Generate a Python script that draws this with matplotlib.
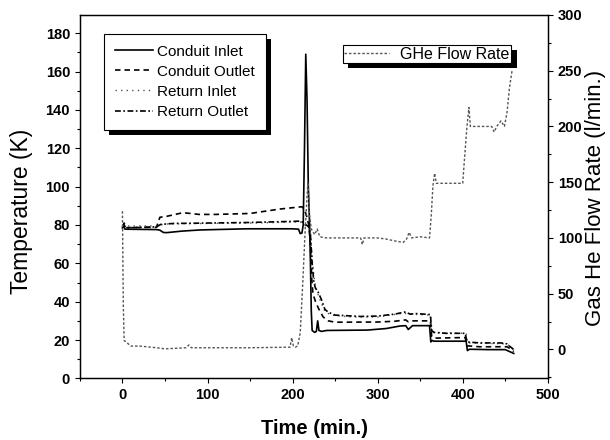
import matplotlib
matplotlib.use("Agg")
import matplotlib.pyplot as plt
import matplotlib.patheffects as pe
from matplotlib.ticker import MultipleLocator

plt.rcParams['font.family'] = ['Liberation Sans', 'DejaVu Sans']

# Conduit inlet (K)
t_ci = [0, 1, 3, 20, 40, 44, 48, 52, 70, 91, 146, 200, 207, 209, 211, 212.5, 214, 215.5,
        217, 218.5, 220, 221, 222, 223, 226, 228, 229.5, 231, 234, 240, 288, 310, 326,
        333, 336, 341, 361, 362.5, 364, 366, 380, 404, 405.5, 408, 430, 450, 455, 460]
ci = [78.5, 80, 77.8, 77.7, 77.6, 77.3, 76.1, 76, 76.8, 77.4, 78, 78, 77.8, 75.5, 75.8, 80, 120, 169,
      145, 100, 80, 60, 35, 25, 24, 24.5, 30, 25, 24.5, 25, 25.2, 26, 27.3,
      27.5, 25.5, 27.5, 27.5, 19, 19.8, 19.4, 19.4, 19.4, 14.5, 15.2, 15, 15, 14, 13]

# Conduit outlet (K)
t_co = [0, 2, 4, 40, 44, 52, 71, 80, 90, 110, 150, 185, 200, 211, 214, 217, 219, 221,
        222.5, 224, 227, 231, 236, 242, 250, 300, 320, 333, 336, 340, 362, 363.5, 366,
        403, 405, 420, 452, 456, 460]
co = [79, 81, 78.6, 78.8, 84, 84.5, 86.4, 86, 85.5, 85.5, 86, 88.3, 89, 89.5, 88, 84, 80, 70,
      52, 44, 40, 36, 32, 30, 29.3, 29.4, 29.8, 30.5, 29.5, 30, 30, 22, 21,
      21.3, 17, 16.5, 16.5, 15.5, 14]

# Return inlet (K)
t_ri = [0, 40, 50, 100, 150, 200, 210, 214, 218, 221, 223, 226, 229, 233, 238, 245, 270,
        300, 330, 340, 362, 363.5, 404, 405.5, 450, 455, 460]
ri = [79.5, 79.5, 80.5, 80.8, 81, 81.5, 81.5, 80, 79, 76, 62, 50, 45, 40, 35, 33, 32,
      32, 34, 33.5, 33, 24, 23.5, 18.5, 18, 17, 15]

# Return outlet (K)
t_ro = [0, 2, 4, 40, 45, 60, 100, 150, 185, 210, 213, 216, 219, 221, 223, 225, 227, 230,
        234, 238, 242, 250, 280, 300, 320, 333, 338, 345, 362, 363.5, 366, 380, 403,
        405, 420, 445, 452, 456, 460]
ro = [78.5, 80, 78.5, 79, 80.3, 80.8, 81, 81.3, 81.7, 82, 81, 80, 79, 75, 60, 50, 47, 45,
      41, 36, 34.5, 33, 32.3, 32.5, 33.5, 34.7, 33.5, 33.8, 33.3, 25, 24, 23.5, 23.5,
      19, 18.5, 18.5, 18, 16.5, 15]

# GHe flow rate (l/min.)
t_fr = [0, 1, 2, 10, 20, 40, 50, 75, 78, 81, 100, 150, 197, 199, 201, 203, 206, 209, 212,
        215, 218, 220, 222, 226, 229, 232, 240, 280, 282, 284, 300, 310, 322, 330, 334,
        337, 340, 350, 361, 363, 365, 367, 369, 400, 402, 405, 407.3, 409, 434, 437,
        440, 445, 449, 452, 455, 458]
fr = [124, 40, 8, 3, 3, 1.5, 0.5, 1.5, 4, 1.5, 1.5, 1.5, 2, 10.5, 3, 2, 3, 15, 60,
      110, 150, 120, 108, 103, 108, 101, 100, 100, 94, 100, 100, 99, 97, 96, 99,
      105, 100, 101, 100, 120, 147, 158, 149, 149, 170, 200, 217, 200, 200, 195,
      200, 205, 200, 212, 235, 250]

fig = plt.figure(figsize=(6.1, 4.4), dpi=100)
ax = fig.add_axes([0.131, 0.140, 0.767, 0.826])
ax2 = ax.twinx()

l1, = ax.plot(t_ci, ci, color='black', lw=1.2, ls='-', label='Conduit Inlet')
l2, = ax.plot(t_co, co, color='black', lw=1.2, ls=(0, (3.3, 2.4)), label='Conduit Outlet')
l3, = ax.plot(t_ri, ri, color='#555555', lw=1.0, ls=(0, (1, 3.0)), label='Return Inlet')
l4, = ax.plot(t_ro, ro, color='black', lw=1.2, ls=(0, (3.5, 1.5, 1, 1.5)), label='Return Outlet')
l5, = ax2.plot(t_fr, fr, color='#555555', lw=1.0, ls=(0, (1.8, 1.4)), label='GHe Flow Rate')

ax.set_xlim(-50, 500)
ax.set_ylim(0, 189.5)
ax2.set_ylim(-26, 300)

ax.xaxis.set_major_locator(MultipleLocator(100))
ax.xaxis.set_minor_locator(MultipleLocator(50))
ax.yaxis.set_major_locator(MultipleLocator(20))
ax.yaxis.set_minor_locator(MultipleLocator(10))
ax2.yaxis.set_major_locator(MultipleLocator(50))
ax2.yaxis.set_minor_locator(MultipleLocator(25))

for a in (ax, ax2):
    a.tick_params(which='major', direction='out', length=3.6, width=0.8, pad=3.5, labelsize=10.5)
    a.tick_params(which='minor', direction='out', length=2.2, width=0.8)
    for sp in a.spines.values():
        sp.set_linewidth(0.9)
    for lab in a.get_xticklabels() + a.get_yticklabels():
        lab.set_fontweight('bold')
ax.tick_params(which='both', top=False)
ax2.tick_params(which='both', top=False)

ax.set_xlabel('Time (min.)', fontsize=14.5, fontweight='bold')
ax.xaxis.set_label_coords(0.502, -0.112)
ax.set_ylabel('Temperature (K)', fontsize=16.5)
ax.yaxis.set_label_coords(-0.100, 0.46)
ax2.set_ylabel('Gas He Flow Rate (l/min.)', fontsize=16)
ax2.yaxis.set_label_coords(1.079, 0.497)

shadow = [pe.SimplePatchShadow(offset=(3.8, -3.8), shadow_rgbFace='black', alpha=1.0), pe.Normal()]

leg1 = ax2.legend(handles=[l1, l2, l3, l4], loc='upper left', bbox_to_anchor=(0.0513, 0.948),
                  borderaxespad=0, fontsize=11, frameon=True, fancybox=False, framealpha=1,
                  edgecolor='black', borderpad=0.7, labelspacing=0.4, handlelength=2.5,
                  handletextpad=0.3)
leg1.get_frame().set_linewidth(0.8)
leg1.get_frame().set_path_effects(shadow)
ax2.add_artist(leg1)

leg2 = ax2.legend(handles=[l5], loc='upper left', bbox_to_anchor=(0.562, 0.9174),
                  borderaxespad=0, fontsize=11.5, frameon=True, fancybox=False, framealpha=1,
                  edgecolor='black', borderpad=0.1, handlelength=2.8, handletextpad=0.7)
leg2.get_frame().set_linewidth(0.8)
leg2.get_frame().set_path_effects(shadow)

fig.savefig('out.png', dpi=100)
